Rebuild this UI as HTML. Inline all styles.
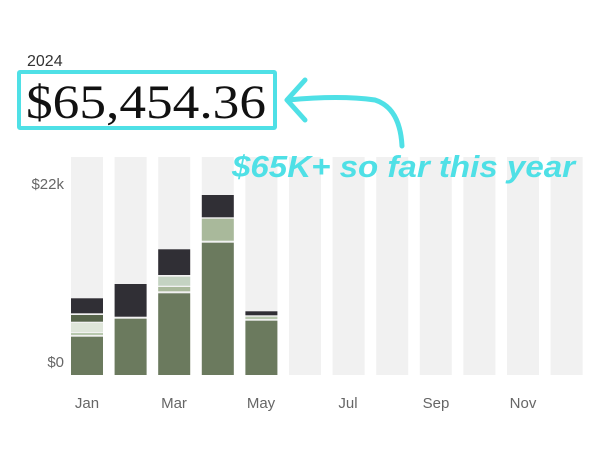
<!DOCTYPE html><html><head><style>
body{margin:0;width:600px;height:470px;background:#fff;overflow:hidden;position:relative;font-family:"Liberation Sans",sans-serif}
</style></head><body>
<svg width="600" height="470" style="position:absolute;left:0;top:0">
<g fill="#f1f1f1">
<rect x="71" y="157" width="32" height="218"/><rect x="114.6" y="157" width="32" height="218"/><rect x="158.2" y="157" width="32" height="218"/><rect x="201.8" y="157" width="32" height="218"/><rect x="245.4" y="157" width="32" height="218"/><rect x="289" y="157" width="32" height="218"/><rect x="332.6" y="157" width="32" height="218"/><rect x="376.2" y="157" width="32" height="218"/><rect x="419.8" y="157" width="32" height="218"/><rect x="463.4" y="157" width="32" height="218"/><rect x="507" y="157" width="32" height="218"/><rect x="550.6" y="157" width="32" height="218"/>
</g>
<rect x="71" y="298.3" width="32" height="15" fill="#302f35"/>
<rect x="71" y="315" width="32" height="6.7" fill="#56644a"/>
<rect x="71" y="323" width="32" height="9" fill="#dfe6da"/>
<rect x="71" y="333" width="32" height="2" fill="#b8c8ae"/>
<rect x="71" y="336.7" width="32" height="38.3" fill="#6b7a5e"/>
<rect x="114.6" y="284" width="32" height="32.7" fill="#302f35"/>
<rect x="114.6" y="318.7" width="32" height="56.3" fill="#6b7a5e"/>
<rect x="158.2" y="249.3" width="32" height="25.7" fill="#302f35"/>
<rect x="158.2" y="276.7" width="32" height="9" fill="#c4d3c2"/>
<rect x="158.2" y="287" width="32" height="4.3" fill="#a9b99b"/>
<rect x="158.2" y="293.3" width="32" height="81.7" fill="#6b7a5e"/>
<rect x="201.8" y="195" width="32" height="22.3" fill="#302f35"/>
<rect x="201.8" y="218.7" width="32" height="22" fill="#a9b99b"/>
<rect x="201.8" y="242.7" width="32" height="132.3" fill="#6b7a5e"/>
<rect x="245.4" y="311.3" width="32" height="4" fill="#302f35"/>
<rect x="245.4" y="316.7" width="32" height="2.3" fill="#b8c8ae"/>
<rect x="245.4" y="320.7" width="32" height="54.3" fill="#6b7a5e"/>
<g font-family="Liberation Sans" font-size="15" fill="#666">
<text x="64" y="189" text-anchor="end">$22k</text>
<text x="64" y="367" text-anchor="end">$0</text>
<g text-anchor="middle"><text x="87" y="408">Jan</text><text x="174" y="408">Mar</text><text x="261" y="408">May</text><text x="348" y="408">Jul</text><text x="436" y="408">Sep</text><text x="523" y="408">Nov</text></g>
</g>
<text x="27" y="66" font-family="Liberation Sans" font-size="16" fill="#333">2024</text>
<rect x="19" y="72" width="256" height="56" fill="none" stroke="#4fe0e6" stroke-width="4" rx="1"/>
<text x="26" y="118" font-family="Liberation Serif" font-size="48" fill="#111" textLength="240" lengthAdjust="spacingAndGlyphs">$65,454.36</text>
<path d="M288 100 Q340 95 375 100 Q400 108 402 146" fill="none" stroke="#4fe0e6" stroke-width="5" stroke-linecap="round"/>
<path d="M305 80 L287 100 L305 120" fill="none" stroke="#4fe0e6" stroke-width="5" stroke-linecap="round" stroke-linejoin="round"/>
<text x="232" y="177" font-family="Liberation Sans" font-size="31" font-style="italic" font-weight="bold" fill="#4fe0e6" textLength="343" lengthAdjust="spacingAndGlyphs">$65K+ so far this year</text>
</svg>
</body></html>
